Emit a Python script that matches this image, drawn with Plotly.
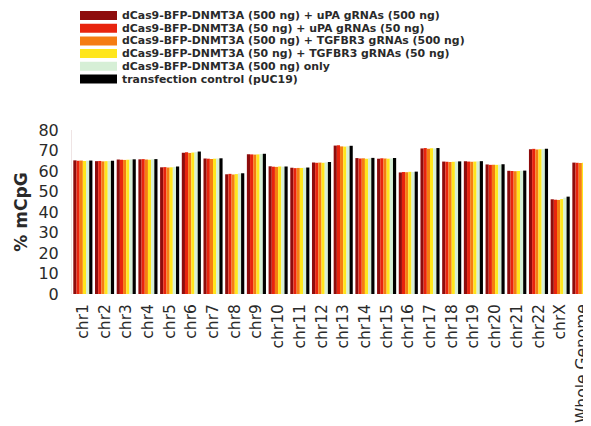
import plotly.graph_objects as go

categories = ["chr1", "chr2", "chr3", "chr4", "chr5", "chr6", "chr7", "chr8", "chr9", "chr10",
              "chr11", "chr12", "chr13", "chr14", "chr15", "chr16", "chr17", "chr18", "chr19",
              "chr20", "chr21", "chr22", "chrX", "Whole Genome"]

series_names = [
    "dCas9-BFP-DNMT3A (500 ng) + uPA gRNAs (500 ng)",
    "dCas9-BFP-DNMT3A (50 ng) + uPA gRNAs (50 ng)",
    "dCas9-BFP-DNMT3A (500 ng) + TGFBR3 gRNAs (500 ng)",
    "dCas9-BFP-DNMT3A (50 ng) + TGFBR3 gRNAs (50 ng)",
    "dCas9-BFP-DNMT3A (500 ng) only",
    "transfection control (pUC19)",
]
series_colors = ["#8e0c0c", "#e8240e", "#f57d12", "#ffe61c", "#d6efd6", "#000000"]

dk_red_500_upa = [65.2, 64.8, 65.6, 65.7, 61.8, 68.9, 66.1, 58.4, 68.2, 62.3, 61.6, 64.2,
                  72.4, 66.3, 66.0, 59.3, 71.0, 64.6, 64.7, 63.2, 60.1, 70.6, 46.2, 64.1]
red_50_upa = [65.0, 64.9, 65.5, 65.8, 61.9, 69.1, 66.0, 58.6, 68.1, 62.1, 61.4, 64.0,
              72.6, 66.1, 66.2, 59.5, 71.2, 64.5, 64.6, 63.0, 60.0, 70.8, 46.0, 64.0]
orange_500_tgfbr3 = [65.1, 64.7, 65.4, 65.6, 61.7, 68.8, 65.9, 58.3, 68.0, 62.0, 61.5, 64.1,
                     72.0, 66.2, 66.1, 59.4, 70.9, 64.4, 64.5, 63.1, 59.9, 70.5, 45.9, 63.9]
yellow_50_tgfbr3 = [64.9, 64.8, 65.5, 65.5, 61.8, 69.0, 66.0, 58.5, 68.1, 62.2, 61.5, 64.0,
                    71.9, 66.0, 66.0, 59.6, 71.1, 64.5, 64.6, 63.0, 60.0, 70.6, 46.3, 64.0]
green_500_only = [65.0, 64.9, 65.6, 65.7, 62.0, 69.2, 66.1, 58.8, 68.3, 62.1, 61.6, 64.2,
                  72.1, 66.2, 66.1, 59.5, 71.0, 64.6, 64.7, 63.1, 60.1, 70.7, 47.0, 64.1]
black_puc19 = [65.1, 65.0, 65.7, 65.8, 62.2, 69.5, 66.2, 58.9, 68.4, 62.2, 61.7, 64.4,
               72.3, 66.4, 66.3, 59.7, 71.2, 64.7, 64.8, 63.3, 60.2, 70.9, 47.5, 64.2]

series_values = [dk_red_500_upa, red_50_upa, orange_500_tgfbr3,
                 yellow_50_tgfbr3, green_500_only, black_puc19]

y_ticks = [0, 10, 20, 30, 40, 50, 60, 70, 80]

# page offset from the default 8px body margin of the html page
OFF = 8
W, H = 591 - OFF, 426 - OFF
PLOT_LEFT, PLOT_TOP, PLOT_BOTTOM = 72, 130, 294   # in page pixels
ML = PLOT_LEFT - OFF
MT = PLOT_TOP - OFF
MB = H - (PLOT_BOTTOM - OFF)
MR = 0
plot_w = W - ML - MR
plot_h = H - MT - MB

def px_x(p):
    return (p - OFF - ML) / plot_w

def px_y(p):
    return (H - MB - (p - OFF)) / plot_h

fig = go.Figure()
for name, color, vals in zip(series_names, series_colors, series_values):
    fig.add_trace(go.Bar(x=categories, y=vals, name=name, marker_color=color,
                         marker_line_width=0, showlegend=False))

# manual legend (wide swatches)
row_y = [15.5, 28.2, 40.9, 53.6, 66.3, 79.0]
for name, color, ry in zip(series_names, series_colors, row_y):
    fig.add_shape(type="rect", xref="paper", yref="paper",
                  x0=px_x(80), x1=px_x(117), y0=px_y(ry + 4.5), y1=px_y(ry - 4.5),
                  fillcolor=color, line_width=0)
    fig.add_annotation(xref="paper", yref="paper", x=px_x(121), y=px_y(ry),
                       xanchor="left", yanchor="middle", text=name, showarrow=False,
                       borderpad=0,
                       font=dict(family="DejaVu Sans", size=10.9, color="#2a2a2a",
                                 weight="bold"))

fig.update_layout(
    width=W, height=H,
    margin=dict(l=ML, r=MR, t=MT, b=MB, pad=0, autoexpand=False),
    paper_bgcolor="white", plot_bgcolor="white",
    barmode="group", bargap=0.12, bargroupgap=0,
    font=dict(family="DejaVu Sans", color="#2a2a2a"),
    xaxis=dict(range=[-0.5, 23.42], tickangle=-90, showgrid=False, zeroline=False,
               showline=False, ticks="", tickfont=dict(size=15.5), ticklabelstandoff=6,
               automargin=False),
    yaxis=dict(range=[0, 80], tickvals=y_ticks, showgrid=False, zeroline=False,
               showline=True, linecolor="#efe4e4", linewidth=1,
               ticks="", tickfont=dict(size=16), ticklabelstandoff=9, automargin=False,
               title=dict(text="<b>% mCpG</b>", font=dict(size=17), standoff=6)),
)

fig.write_html("out.html")
